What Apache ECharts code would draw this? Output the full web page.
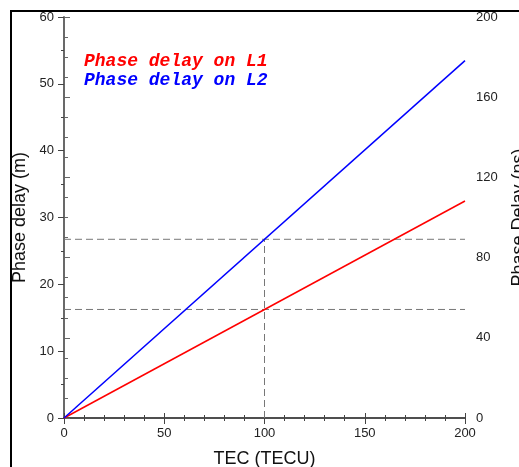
<!DOCTYPE html>
<html>
<head>
<meta charset="utf-8">
<script src="https://cdn.jsdelivr.net/npm/echarts@6/dist/echarts.min.js"></script>
<style>
  html, body { margin: 0; padding: 0; background: #fff; }
  #chart { width: 519px; height: 467px; }
</style>
</head>
<body>
<div id="chart"></div>
<script>
// TEC (TECU) -> phase delay (m)
var tecPoints = [0, 200];
var delayL1 = [0, 32.47];
var delayL2 = [0, 53.48];
// guide lines at 100 TECU
var refTec = 100;
var refL1 = 16.24;
var refL2 = 26.74;
var legendNames = ['Phase delay on L1', 'Phase delay on L2'];

function pairs(xs, ys) {
    var out = [];
    for (var i = 0; i < xs.length; i++) out.push([xs[i], ys[i]]);
    return out;
}

var chart = echarts.init(document.getElementById('chart'));

var sans = 'Liberation Sans, Arial, sans-serif';
var nameFont = { color: '#111', fontSize: 18, fontFamily: sans };
var axisLine = { show: true, lineStyle: { color: '#444', width: 1.5 } };
var dash = { color: '#777', width: 1, type: [7, 4] };

var option = {
    animation: false,
    backgroundColor: '#fff',
    grid: { left: 64, right: 54, top: 17, bottom: 49, show: false, containLabel: false, outerBoundsMode: 'none' },
    legend: {
        orient: 'vertical',
        left: 74,
        top: 47,
        icon: 'none',
        itemGap: 1,
        itemWidth: 0,
        selectedMode: false,
        textStyle: { fontFamily: 'Liberation Mono, Courier New, monospace', fontStyle: 'italic', fontWeight: 'bold', fontSize: 18 },
        data: [
            { name: legendNames[0], textStyle: { color: '#ff0000' } },
            { name: legendNames[1], textStyle: { color: '#0000ff' } }
        ]
    },
    xAxis: [
        {
            type: 'value', position: 'bottom', min: 0, max: 200, interval: 50,
            name: 'TEC (TECU)', nameLocation: 'middle', nameGap: 32, nameTextStyle: nameFont,
            axisLine: axisLine,
            axisTick: { show: true, length: 6, lineStyle: { color: '#444' } },
            minorTick: { show: true, splitNumber: 5, length: 3, lineStyle: { color: '#444' } },
            axisLabel: { color: '#222', fontSize: 13, margin: 9, fontFamily: sans },
            splitLine: { show: false }
        },
        {
            type: 'value', position: 'top', min: 0, max: 200, interval: 50,
            axisLine: axisLine,
            axisTick: { show: true, length: 5, lineStyle: { color: '#444' } },
            minorTick: { show: true, splitNumber: 5, length: 3, lineStyle: { color: '#444' } },
            axisLabel: { show: false },
            splitLine: { show: false }
        }
    ],
    yAxis: [
        {
            type: 'value', position: 'left', min: 0, max: 60, interval: 10,
            name: 'Phase delay (m)', nameLocation: 'middle', nameGap: 34, nameTextStyle: nameFont,
            axisLine: axisLine,
            axisTick: { show: true, length: 6, lineStyle: { color: '#444' } },
            minorTick: { show: true, splitNumber: 2, length: 3, lineStyle: { color: '#444' } },
            axisLabel: { color: '#222', fontSize: 13, margin: 10, fontFamily: sans },
            splitLine: { show: false }
        },
        {
            type: 'value', position: 'right', min: 0, max: 200, interval: 40,
            name: 'Phase Delay (ns)', nameLocation: 'middle', nameGap: 45, nameRotate: 90, nameTextStyle: nameFont,
            axisLine: { show: true, lineStyle: { color: '#666', width: 1.5 } },
            axisTick: { show: true, length: 6, lineStyle: { color: '#666' } },
            minorTick: { show: true, splitNumber: 4, length: 4, lineStyle: { color: '#666' } },
            axisLabel: { color: '#222', fontSize: 13, margin: 11, fontFamily: sans },
            splitLine: { show: false }
        }
    ],
    graphic: [
        { type: 'polyline', shape: { points: [[11, 467], [11, 11], [519, 11]] }, style: { stroke: '#000', lineWidth: 2, fill: null }, z: 100 }
    ],
    series: [
        { type: 'line', data: pairs([0, 200], [refL2, refL2]), symbol: 'none', lineStyle: dash, z: 1, silent: true },
        { type: 'line', data: pairs([0, 200], [refL1, refL1]), symbol: 'none', lineStyle: dash, z: 1, silent: true },
        { type: 'line', data: pairs([refTec, refTec], [0, refL2]), symbol: 'none', lineStyle: dash, z: 1, silent: true },
        { name: legendNames[0], type: 'line', data: pairs(tecPoints, delayL1), symbol: 'none', lineStyle: { color: '#ff0000', width: 1.5 }, itemStyle: { color: '#ff0000' }, z: 3 },
        { name: legendNames[1], type: 'line', data: pairs(tecPoints, delayL2), symbol: 'none', lineStyle: { color: '#0000ff', width: 1.5 }, itemStyle: { color: '#0000ff' }, z: 3 }
    ]
};

chart.setOption(option);
</script>
</body>
</html>
